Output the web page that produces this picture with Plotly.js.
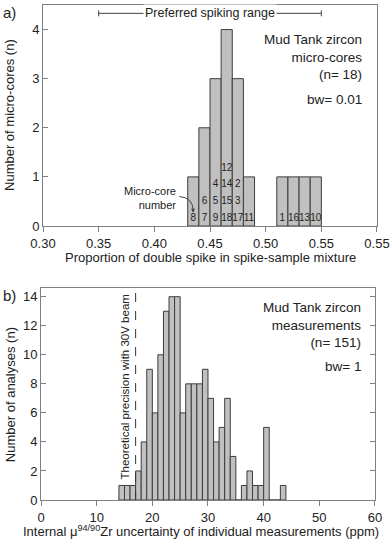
<!DOCTYPE html>
<html>
<head>
<meta charset="utf-8">
<script src="https://cdn.plot.ly/plotly-3.0.1.min.js"></script>
<style>
  html, body { margin: 0; padding: 0; background: #fff; }
  #graph { width: 391px; height: 542px; }
</style>
</head>
<body>
<div id="graph"></div>
<script>
// a) micro-cores: bin start (width 0.01), counts, core numbers (bottom to top)
const coreBinStart = [0.43, 0.44, 0.45, 0.46, 0.47, 0.48, 0.51, 0.52, 0.53, 0.54]
const coreCounts = [1, 2, 3, 4, 3, 1, 1, 1, 1, 1]
const coreNumbers = [
	["8"], ["7", "6"], ["9", "5", "4"], ["18", "15", "14", "12"], ["17", "3", "2"],
	["11"], ["1"], ["16"], ["13"], ["10"],
]
const coreTickVals = [0.30, 0.35, 0.40, 0.45, 0.50, 0.55, 0.60]
const coreTickText = ["0.30", "0.35", "0.40", "0.45", "0.50", "0.55", "0.55"]

// b) measurements: bin start (width 1), counts
const measBinStart = [14, 15, 16, 17, 18, 19, 20, 21, 22, 23, 24, 25, 26, 27, 28, 29,
	30, 31, 32, 33, 34, 35, 36, 37, 38, 39, 40, 41, 42, 43]
const measCounts = [1, 1, 1, 2, 4, 9, 6, 10, 13, 14, 14, 6, 8, 8, 8, 9,
	7, 4, 5, 7, 3, 0, 1, 2, 1, 1, 5, 0, 0, 1]
const theoreticalPrecision = 17

const FONT = "Liberation Sans, Arial, sans-serif"
const INK = "#222"
const AXIS = "#808080"
const BAR_FILL = "#c0c0c0"
const BAR_LINE = "#3c3c3c"

// label rows inside the top bars
const labelX = [], labelY = [], labelText = []
coreNumbers.forEach((nums, i) => {
	nums.forEach((n, j) => {
		labelX.push(coreBinStart[i] + 0.005)
		labelY.push(0.16 + j * 0.34)
		labelText.push(n)
	})
})

const data = [
	{
		type: 'bar',
		x: coreBinStart.map(v => v + 0.005),
		y: coreCounts,
		width: 0.01,
		marker: { color: BAR_FILL, line: { color: BAR_LINE, width: 1 } },
		xaxis: 'x', yaxis: 'y',
		hoverinfo: 'skip',
	}, {
		type: 'scatter',
		mode: 'text',
		x: labelX,
		y: labelY,
		text: labelText,
		textfont: { family: FONT, size: 10, color: INK },
		xaxis: 'x', yaxis: 'y',
		hoverinfo: 'skip',
	}, {
		type: 'bar',
		x: measBinStart.map(v => v + 0.5),
		y: measCounts,
		width: 1,
		marker: { color: BAR_FILL, line: { color: BAR_LINE, width: 1 } },
		xaxis: 'x2', yaxis: 'y2',
		hoverinfo: 'skip',
	},
]

const axisCommon = {
	showgrid: false,
	zeroline: false,
	showline: true,
	linecolor: AXIS,
	linewidth: 1,
	tickcolor: AXIS,
	ticklen: 5,
	tickfont: { family: FONT, size: 13, color: INK },
	fixedrange: true,
}

// annotation helper with fixed anchors (paper refs otherwise auto-anchor)
function note(text, xref, yref, x, y, size, extra) {
	return Object.assign({
		text, xref, yref, x, y,
		xanchor: 'center', yanchor: 'middle',
		showarrow: false,
		font: { family: FONT, size, color: INK },
	}, extra || {})
}

const layout = {
	width: 391,
	height: 542,
	margin: { l: 41, r: 14, t: 5, b: 42 },
	paper_bgcolor: '#fff',
	plot_bgcolor: '#fff',
	showlegend: false,
	bargap: 0,
	font: { family: FONT, color: INK },
	xaxis: {
		...axisCommon,
		domain: [0.006, 1],
		anchor: 'y',
		range: [0.30, 0.60],
		tickvals: coreTickVals,
		ticktext: coreTickText,
		ticks: 'outside',
		mirror: true,
	},
	yaxis: {
		...axisCommon,
		domain: [0.5535, 1],
		anchor: 'x',
		range: [0, 4.5],
		tickvals: [0, 1, 2, 3, 4],
		ticks: 'inside',
		mirror: true,
	},
	xaxis2: {
		...axisCommon,
		domain: [0, 0.994],
		anchor: 'y2',
		range: [0, 60],
		tickvals: [0, 10, 20, 30, 40, 50, 60],
		ticks: 'outside',
		mirror: true,
	},
	yaxis2: {
		...axisCommon,
		domain: [0, 0.4283],
		anchor: 'x2',
		range: [0, 14.6],
		tickvals: [0, 2, 4, 6, 8, 10, 12, 14],
		ticks: 'inside',
		mirror: 'ticks',
	},
	shapes: [
		// preferred spiking range bracket
		{ type: 'line', xref: 'x', yref: 'y', x0: 0.35, x1: 0.55, y0: 4.33, y1: 4.33,
			line: { color: '#444', width: 1 } },
		{ type: 'line', xref: 'x', yref: 'y', x0: 0.35, x1: 0.35, y0: 4.27, y1: 4.39,
			line: { color: '#444', width: 1 } },
		{ type: 'line', xref: 'x', yref: 'y', x0: 0.55, x1: 0.55, y0: 4.27, y1: 4.39,
			line: { color: '#444', width: 1 } },
		// curved pointer to core number
		{ type: 'path', xref: 'x', yref: 'y',
			path: 'M 0.4225,0.6 Q 0.4345,0.58 0.4348,0.33',
			line: { color: '#444', width: 1 } },
		// theoretical precision
		{ type: 'line', xref: 'x2', yref: 'y2', x0: theoreticalPrecision, x1: theoreticalPrecision,
			y0: 0, y1: 14.6, line: { color: '#333', width: 1, dash: 'dash' } },
	],
	annotations: [
		note('a)', 'paper', 'paper', -0.12, 0.984, 15, { xanchor: 'left' }),
		note('b)', 'paper', 'paper', -0.12, 0.413, 15, { xanchor: 'left' }),
		note('Preferred spiking range', 'x', 'y', 0.45, 4.33, 12.5,
			{ bgcolor: '#fff', borderpad: 1 }),
		note('Mud Tank zircon<br>micro-cores<br>(n= 18)', 'x', 'y', 0.588, 3.45, 13.5,
			{ xanchor: 'right', align: 'right' }),
		note('bw= 0.01', 'x', 'y', 0.588, 2.58, 13.5, { xanchor: 'right' }),
		note('Micro-core<br>number', 'x', 'y', 0.4215, 0.57, 11,
			{ xanchor: 'right', align: 'right' }),
		{ text: '', xref: 'x', yref: 'y', axref: 'x', ayref: 'y', x: 0.4348, y: 0.27,
			ax: 0.4348, ay: 0.36, showarrow: true, arrowhead: 2, arrowsize: 0.8,
			arrowwidth: 1, arrowcolor: '#444' },
		note('Mud Tank zircon<br>measurements<br>(n= 151)', 'x2', 'y2', 57.8, 12.05, 13.5,
			{ xanchor: 'right', align: 'right' }),
		note('bw= 1', 'x2', 'y2', 57.8, 9.22, 13.5, { xanchor: 'right' }),
		note('Theoretical precision with 30V beam', 'x2', 'y2', 15.1, 7.75, 11.5,
			{ textangle: -90 }),
		// axis titles
		note('Proportion of double spike in spike-sample mixture', 'paper', 'paper',
			0.503, 0.49, 13),
		note('Number of micro-cores (n)', 'paper', 'paper', -0.092, 0.778, 13,
			{ textangle: -90 }),
		note('Internal μ<sup>94/90</sup>Zr uncertainty of individual measurements (ppm)',
			'paper', 'paper', 0.475, -0.0626, 13),
		note('Number of analyses (n)', 'paper', 'paper', -0.092, 0.212, 13,
			{ textangle: -90 }),
	],
}

Plotly.newPlot('graph', data, layout, { staticPlot: true, displayModeBar: false })
</script>
</body>
</html>
